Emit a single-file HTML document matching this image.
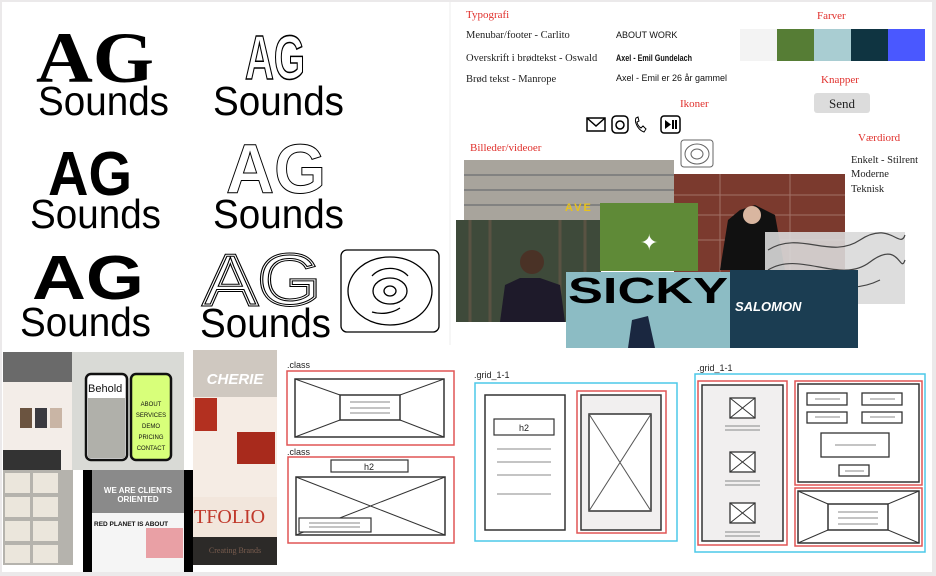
<!DOCTYPE html>
<html><head><meta charset="utf-8"><style>
html,body{margin:0;padding:0;background:#ebe9ea;}
svg{display:block}
.s{font-family:"Liberation Sans",sans-serif;}
.r{font-family:"Liberation Serif",serif;}
</style></head><body>
<svg width="936" height="576" viewBox="0 0 936 576" xmlns="http://www.w3.org/2000/svg">
<rect x="0" y="0" width="936" height="576" fill="#ebe9ea"/>
<rect x="2" y="2" width="930" height="570" fill="#fff"/>
<line x1="450" y1="2" x2="450" y2="345" stroke="#eee" stroke-width="1"/>

<g class="r" font-weight="bold" fill="#000">
<text x="36" y="82" font-size="72" textLength="118" lengthAdjust="spacingAndGlyphs">AG</text>
</g>
<g class="s" font-weight="bold" fill="#000">
<text x="48" y="195" font-size="62" textLength="84" lengthAdjust="spacingAndGlyphs">AG</text>
<text x="32" y="299" font-size="62" textLength="112" lengthAdjust="spacingAndGlyphs">AG</text>
</g>
<g class="s" fill="#000">
<text x="38" y="115" font-size="41" textLength="131" lengthAdjust="spacingAndGlyphs">Sounds</text>
<text x="30" y="228" font-size="41" textLength="131" lengthAdjust="spacingAndGlyphs">Sounds</text>
<text x="20" y="336" font-size="41" textLength="131" lengthAdjust="spacingAndGlyphs">Sounds</text>
<text x="213" y="115" font-size="41" textLength="131" lengthAdjust="spacingAndGlyphs">Sounds</text>
<text x="213" y="228" font-size="41" textLength="131" lengthAdjust="spacingAndGlyphs">Sounds</text>
<text x="200" y="337" font-size="41" textLength="131" lengthAdjust="spacingAndGlyphs">Sounds</text>
</g>
<g class="s" font-weight="bold" fill="#fff" stroke="#000" stroke-width="1.6">
<text x="245" y="79" font-size="62" textLength="60" lengthAdjust="spacingAndGlyphs">AG</text>
</g>
<g class="s" font-weight="bold" fill="#fff" stroke="#000" stroke-width="1">
<text x="226" y="193" font-size="70" textLength="100" lengthAdjust="spacingAndGlyphs">AG</text>
</g>
<g class="s" fill="none" stroke="#000" stroke-width="1.3">
<text x="203" y="305" font-size="72" textLength="118" lengthAdjust="spacingAndGlyphs" stroke-width="3">AG</text>
<text x="203" y="305" font-size="72" textLength="118" lengthAdjust="spacingAndGlyphs" stroke="#fff" stroke-width="1">AG</text>
</g>
<g fill="none" stroke="#000" stroke-width="1.3">
<rect x="341" y="250" width="98" height="82" rx="6"/>
<ellipse cx="390" cy="291" rx="42" ry="34"/>
<ellipse cx="390" cy="291" rx="17" ry="13"/>
<ellipse cx="390" cy="291" rx="6" ry="5"/>
<path d="M372 276 A22 18 0 0 1 408 276"/>
<path d="M400 308 A30 26 0 0 1 372 312"/>
</g>

<g class="r" fill="#e0302c" font-size="11">
<text x="466" y="18">Typografi</text>
<text x="817" y="19">Farver</text>
<text x="821" y="83">Knapper</text>
<text x="680" y="107">Ikoner</text>
<text x="470" y="151">Billeder/videoer</text>
<text x="858" y="141">Værdiord</text>
</g>
<g class="r" fill="#222" font-size="10.5">
<text x="466" y="38">Menubar/footer - Carlito</text>
<text x="466" y="61">Overskrift i brødtekst - Oswald</text>
<text x="466" y="82">Brød tekst - Manrope</text>
<text x="851" y="163">Enkelt - Stilrent</text>
<text x="851" y="177">Moderne</text>
<text x="851" y="192">Teknisk</text>
</g>
<g class="s" fill="#111" font-size="9">
<text x="616" y="38">ABOUT  WORK</text>
<text x="616" y="61" font-weight="bold" textLength="76" lengthAdjust="spacingAndGlyphs">Axel - Emil Gundelach</text>
<text x="616" y="81">Axel - Emil er 26 år gammel</text>
</g>
<rect x="740" y="29" width="37" height="32" fill="#f3f3f3"/>
<rect x="777" y="29" width="37" height="32" fill="#567d35"/>
<rect x="814" y="29" width="37" height="32" fill="#a9cdd2"/>
<rect x="851" y="29" width="37" height="32" fill="#0f3441"/>
<rect x="888" y="29" width="37" height="32" fill="#4a58ff"/>
<rect x="814" y="93" width="56" height="20" rx="3" fill="#dcdcdc"/>
<text x="842" y="108" class="r" font-size="13" text-anchor="middle" fill="#222">Send</text>
<g fill="none" stroke="#000" stroke-width="1.5">
<rect x="587" y="118" width="18" height="13"/><path d="M587 118 L596 126 L605 118"/>
<rect x="612" y="116" width="16" height="17" rx="4"/><circle cx="620" cy="125" r="4"/>
<path d="M636 118 c-2 4 2 12 8 14 l2 -3 -3 -3 -2 2 c-2 -1 -4 -4 -4 -6 l2 -1 -1 -4z" stroke-width="1"/>
<rect x="661" y="116" width="19" height="17" rx="3"/>
</g>
<path d="M665 120 L671 124.5 L665 129Z M672 120h2v9h-2z M675 120h2v9h-2z" fill="#000"/>
<g fill="none" stroke="#666" stroke-width="1">
<rect x="681" y="140" width="32" height="27" rx="3"/>
<ellipse cx="697" cy="154" rx="12" ry="10"/><ellipse cx="697" cy="154" rx="6" ry="5"/>
</g>

<rect x="464" y="160" width="210" height="62" fill="#a8a49c"/>
<g stroke="#6a6d70" stroke-width="2" opacity=".6">
<line x1="464" y1="175" x2="674" y2="175"/><line x1="464" y1="190" x2="674" y2="190"/><line x1="464" y1="205" x2="674" y2="205"/>
</g>
<text x="565" y="211" class="s" font-weight="bold" font-size="11" fill="#e8c21c" letter-spacing="2">AVE</text>
<rect x="674" y="174" width="171" height="98" fill="#7b3a2e"/>
<g stroke="#c9a9a0" stroke-width="1" opacity=".5"><line x1="674" y1="195" x2="845" y2="195"/><line x1="674" y1="215" x2="845" y2="215"/><line x1="674" y1="240" x2="845" y2="240"/><line x1="720" y1="174" x2="720" y2="272"/><line x1="790" y1="174" x2="790" y2="272"/></g>
<path d="M720 270 L728 220 L740 210 L755 205 L775 215 L785 270Z" fill="#111"/>
<circle cx="752" cy="215" r="9" fill="#d9b6a0"/>
<rect x="456" y="220" width="145" height="102" fill="#3e4a3a"/>
<g stroke="#6b5a4a" stroke-width="3" opacity=".6"><line x1="470" y1="220" x2="470" y2="322"/><line x1="490" y1="220" x2="490" y2="322"/><line x1="560" y1="220" x2="560" y2="322"/><line x1="585" y1="220" x2="585" y2="322"/></g>
<path d="M500 322 L505 285 L520 278 L540 278 L560 285 L565 322Z" fill="#1e1a2a"/>
<circle cx="532" cy="262" r="12" fill="#4a3226"/>
<rect x="600" y="203" width="98" height="68" fill="#5f8a37"/>
<text x="640" y="250" class="s" font-size="22" fill="#fff">✦</text>
<rect x="765" y="232" width="140" height="72" fill="#d9d9d9" opacity=".9"/>
<path d="M768 250 C800 230 830 260 860 240 S900 250 905 235 M768 270 C800 250 840 285 870 262 S900 275 905 260 M770 290 C810 270 840 300 880 280" stroke="#444" fill="none" stroke-width="1.2"/>
<rect x="566" y="272" width="164" height="76" fill="#8cbcc4"/>
<text x="568" y="303" class="s" font-weight="bold" font-size="36" fill="#000" textLength="160" lengthAdjust="spacingAndGlyphs">SICKY</text>
<path d="M628 348 L632 320 L648 316 L655 348Z" fill="#1a2740"/>
<rect x="730" y="270" width="128" height="78" fill="#1b3d52"/>
<text x="735" y="311" class="s" font-weight="bold" font-style="italic" font-size="13" fill="#fff">SALOMON</text>

<rect x="3" y="352" width="70" height="120" fill="#f3ede8"/>
<rect x="3" y="352" width="70" height="30" fill="#6a6a6a"/>
<rect x="20" y="408" width="12" height="20" fill="#6b5440"/><rect x="35" y="408" width="12" height="20" fill="#3a3a40"/><rect x="50" y="408" width="12" height="20" fill="#c9b5a5"/>
<rect x="3" y="450" width="58" height="22" fill="#333"/>
<rect x="72" y="352" width="112" height="118" fill="#d9dad6"/>
<rect x="86" y="374" width="41" height="86" rx="5" fill="#fff" stroke="#111" stroke-width="2.5"/>
<text x="88" y="392" class="s" font-size="11" fill="#111">Behold</text>
<rect x="88" y="398" width="37" height="60" fill="#b0b0aa"/>
<rect x="131" y="374" width="40" height="86" rx="5" fill="#d8ff7a" stroke="#111" stroke-width="2.5"/>
<g class="s" font-size="6" fill="#111" text-anchor="middle">
<text x="151" y="406">ABOUT</text><text x="151" y="417">SERVICES</text><text x="151" y="428">DEMO</text><text x="151" y="439">PRICING</text><text x="151" y="450">CONTACT</text>
</g>
<rect x="3" y="470" width="70" height="95" fill="#b5b3ad"/>
<g fill="#ebe6dc"><rect x="5" y="473" width="25" height="20"/><rect x="33" y="473" width="25" height="20"/><rect x="5" y="497" width="25" height="20"/><rect x="33" y="497" width="25" height="20"/><rect x="5" y="521" width="25" height="20"/><rect x="33" y="521" width="25" height="20"/><rect x="5" y="545" width="25" height="18"/><rect x="33" y="545" width="25" height="18"/></g>
<rect x="83" y="470" width="110" height="102" fill="#000"/>
<rect x="92" y="470" width="92" height="43" fill="#8a8a8a"/>
<text x="138" y="493" class="s" font-weight="bold" font-size="8" fill="#fff" text-anchor="middle">WE ARE CLIENTS</text>
<text x="138" y="502" class="s" font-weight="bold" font-size="8" fill="#fff" text-anchor="middle">ORIENTED</text>
<rect x="92" y="513" width="92" height="59" fill="#f5f5f5"/>
<text x="94" y="526" class="s" font-weight="bold" font-size="6.5" fill="#111">RED PLANET IS ABOUT</text>
<rect x="146" y="528" width="37" height="30" fill="#e9a0a5"/>
<rect x="193" y="350" width="84" height="215" fill="#2c2a28"/>
<rect x="193" y="350" width="84" height="47" fill="#cfc8c0"/>
<text x="235" y="384" class="s" font-weight="bold" font-style="italic" font-size="15" fill="#fff" text-anchor="middle">CHERIE</text>
<rect x="193" y="397" width="84" height="100" fill="#f5ece4"/>
<rect x="195" y="398" width="22" height="33" fill="#b33020"/>
<rect x="237" y="432" width="38" height="32" fill="#a82a1c"/>
<rect x="193" y="497" width="84" height="40" fill="#f2e6dc"/>
<text x="194" y="523" class="r" font-size="20" fill="#c0392b">TFOLIO</text>
<text x="235" y="553" class="r" font-size="8" fill="#7a5d4f" text-anchor="middle">Creating Brands</text>

<g class="s" font-size="9" fill="#222">
<text x="287" y="368">.class</text>
<text x="287" y="455">.class</text>
<text x="474" y="378">.grid_1-1</text>
<text x="697" y="371">.grid_1-1</text>
<text x="369" y="470" text-anchor="middle">h2</text>
<text x="524" y="431" text-anchor="middle">h2</text>
</g>
<g fill="none">
<rect x="287" y="371" width="167" height="74" stroke="#e05555" stroke-width="1.5"/>
<rect x="295" y="379" width="149" height="58" stroke="#333" stroke-width="1.5"/>
<path d="M295 379 L340 395 M444 379 L400 395 M295 437 L340 420 M444 437 L400 420" stroke="#333"/>
<rect x="340" y="395" width="60" height="25" stroke="#333" stroke-width="1.5" fill="#fff"/>
<path d="M350 402 H390 M350 408 H390 M350 413 H390" stroke="#888"/>
<rect x="288" y="457" width="166" height="86" stroke="#e05555" stroke-width="1.5"/>
<rect x="331" y="460" width="77" height="12" stroke="#333" stroke-width="1.2"/>
<rect x="296" y="477" width="149" height="58" stroke="#333" stroke-width="1.5"/>
<path d="M296 477 L445 535 M445 477 L296 535" stroke="#333"/>
<rect x="299" y="518" width="72" height="14" stroke="#333" stroke-width="1.2" fill="#fff"/>
<path d="M309 523 H360 M309 527 H360" stroke="#888"/>

<rect x="475" y="383" width="202" height="158" stroke="#4cc8e8" stroke-width="1.5"/>
<rect x="485" y="395" width="80" height="135" stroke="#333" stroke-width="1.5"/>
<rect x="494" y="419" width="60" height="16" stroke="#333" stroke-width="1.2"/>
<path d="M497 449 H551 M497 462 H551 M497 475 H551 M497 494 H551" stroke="#888"/>
<rect x="577" y="391" width="89" height="142" stroke="#e05555" stroke-width="1.5"/>
<rect x="581" y="395" width="80" height="135" stroke="#333" stroke-width="1.5" fill="#f1efef"/>
<rect x="589" y="414" width="62" height="97" stroke="#333" stroke-width="1.5" fill="#fff"/>
<path d="M589 414 L651 511 M651 414 L589 511" stroke="#555"/>

<rect x="695" y="374" width="230" height="178" stroke="#4cc8e8" stroke-width="1.5"/>
<rect x="698" y="381" width="89" height="164" stroke="#e05555" stroke-width="1.5"/>
<rect x="702" y="385" width="81" height="156" stroke="#333" stroke-width="1.5" fill="#f1efef"/>
<g stroke="#333" stroke-width="1.3" fill="#fff">
<rect x="730" y="398" width="25" height="20"/><rect x="730" y="452" width="25" height="20"/><rect x="730" y="503" width="25" height="20"/>
</g>
<path d="M730 398 L755 418 M755 398 L730 418 M730 452 L755 472 M755 452 L730 472 M730 503 L755 523 M755 503 L730 523" stroke="#333"/>
<path d="M725 426 H760 M725 430 H760 M725 481 H760 M725 485 H760 M725 532 H760 M725 536 H760" stroke="#888"/>
<rect x="795" y="381" width="127" height="104" stroke="#e05555" stroke-width="1.5"/>
<rect x="798" y="384" width="121" height="98" stroke="#333" stroke-width="1.5"/>
<g stroke="#333" stroke-width="1.3">
<rect x="807" y="393" width="40" height="12"/><rect x="862" y="393" width="40" height="12"/>
<rect x="807" y="412" width="40" height="11"/><rect x="862" y="412" width="40" height="11"/>
<rect x="821" y="433" width="68" height="24"/><rect x="839" y="465" width="30" height="11"/>
</g>
<path d="M815 399 H840 M870 399 H895 M815 417 H840 M870 417 H895 M835 445 H876 M845 471 H864" stroke="#888"/>
<rect x="795" y="488" width="127" height="58" stroke="#e05555" stroke-width="1.5"/>
<rect x="798" y="491" width="121" height="52" stroke="#333" stroke-width="1.5"/>
<path d="M798 491 L828 504 M919 491 L888 504 M798 543 L828 530 M919 543 L888 530" stroke="#333"/>
<rect x="828" y="504" width="60" height="26" stroke="#333" stroke-width="1.5"/>
<path d="M838 512 H878 M838 518 H878 M838 524 H878" stroke="#888"/>
</g>
</svg>
</body></html>
